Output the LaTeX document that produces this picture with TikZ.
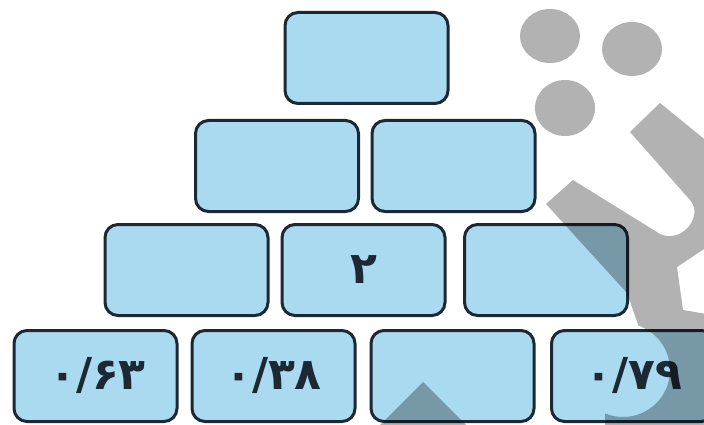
\documentclass[tikz,border=0pt]{standalone}
\usepackage{fontspec}
\newfontfamily\fa[Script=Arabic]{DejaVu Sans}
\definecolor{boxfill}{RGB}{170,218,240}
\definecolor{boxline}{RGB}{28,40,52}
\definecolor{wm}{RGB}{178,178,178}
\tikzset{
  brick/.style={draw=boxline, line width=3pt, fill=boxfill, rounded corners=13pt,
    minimum width=163pt, minimum height=91pt, inner sep=0pt,
    text=boxline, font=\fa\bfseries\fontsize{44}{44}\selectfont},
  mark wm/.style={fill=wm}
}
\begin{document}
\begin{tikzpicture}[x=1pt,y=-1pt]
\useasboundingbox (0,0) rectangle (704,425);
\clip (0,0) rectangle (704,425);
\fill[white] (0,0) rectangle (704,425);
% row 1
\node[brick] (a1) at (366.5,58) {};
% row 2
\node[brick] (b1) at (277,166) {};
\node[brick] (b2) at (453.5,166) {};
% row 3
\node[brick] (c1) at (186.5,270) {};
\node[brick] (c2) at (363.5,270) {۲};
\node[brick] (c3) at (546,270) {};
% row 4
\node[brick] (d1) at (95.5,376) {\hspace*{4pt}۰/۶۳};
\node[brick] (d2) at (273.5,376) {۰/۳۸};
\node[brick] (d3) at (452.5,376) {};
\node[brick] (d4) at (633,376) {\hspace*{2pt}۰/۷۹};
% watermark
\begin{scope}[blend mode=multiply]
  \fill[mark wm] (550,36) ellipse [x radius=30, y radius=27];
  \fill[mark wm] (632,49) ellipse [x radius=30, y radius=27];
  \fill[mark wm] (565,108) ellipse [x radius=30, y radius=28];
  \begin{scope}[even odd rule]
    \clip (-10,-10) rectangle (800,500) (623,370) circle[radius=47];
    \fill[mark wm] (546,204) -- (573,180) -- (660,234)
      .. controls (682,244) and (704,216) .. (690,200)
      -- (630,132) -- (660,103) -- (730,160) -- (730,245) -- (704,249)
      -- (677,267) -- (683,310) -- (730,318) -- (730,440) -- (605,440)
      -- (605,400) -- (640,330) -- (627,293) -- cycle;
  \end{scope}
  \fill[mark wm] (423,382) -- (470,429) -- (376,429) -- cycle;
\end{scope}
\end{tikzpicture}
\end{document}
